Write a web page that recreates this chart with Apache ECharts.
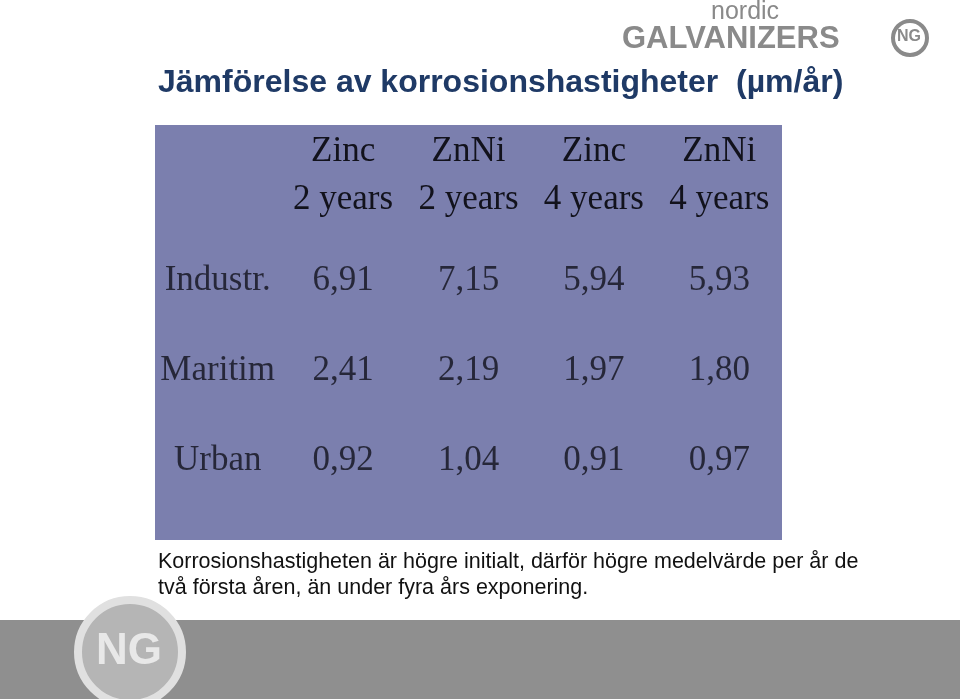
<!DOCTYPE html>
<html><head><meta charset="utf-8">
<script src="https://cdn.jsdelivr.net/npm/echarts@6/dist/echarts.min.js"></script>
<style>html,body{margin:0;padding:0;background:#fff}#c{width:960px;height:699px}</style>
</head><body><div id="c"></div>
<script>
const columns = ['', 'Zinc\n2 years', 'ZnNi\n2 years', 'Zinc\n4 years', 'ZnNi\n4 years'];
const rows = ['Industr.', 'Maritim', 'Urban'];
const zinc2 = ['6,91', '2,41', '0,92'];
const znni2 = ['7,15', '2,19', '1,04'];
const zinc4 = ['5,94', '1,97', '0,91'];
const znni4 = ['5,93', '1,80', '0,97'];
const title = 'Jämförelse av korrosionshastigheter  (µm/år)';
const note = ['Korrosionshastigheten är högre initialt, därför högre medelvärde per år de', 'två första åren, än under fyra års exponering.'];

const cols = [zinc2, znni2, zinc4, znni4];
const cellData = [];
cols.forEach((c, ci) => c.forEach((v, ri) => cellData.push({value: [ci + 1, ri], label: {formatter: v}})));
const rowData = rows.map((r, ri) => ({value: [0, ri], label: {formatter: r}}));
const txt = {color: '#12121c', fontFamily: 'Liberation Serif', fontSize: 35};
const chart = echarts.init(document.getElementById('c'));
chart.setOption({
  animation: false,
  graphic: [
    {type: 'rect', shape: {x: 155, y: 125, width: 627, height: 415}, style: {fill: '#7b7fae'}, z: -10},
    {type: 'text', left: 158, top: 67, style: {text: title, font: 'bold 32px "Liberation Sans"', fill: '#1f3a66'}},
    {type: 'text', left: 158, top: 549, style: {text: note.join('\n'), font: '21.5px "Liberation Sans"', lineHeight: 26, fill: '#111'}},
    {type: 'text', left: 711, top: 0, style: {text: 'nordic', font: '25px "Liberation Sans"', fill: '#8a8a8a'}},
    {type: 'text', left: 622, top: 24, style: {text: 'GALVANIZERS', font: 'bold 31px "Liberation Sans"', fill: '#8a8a8a'}},
    {type: 'circle', shape: {cx: 910, cy: 38, r: 17}, style: {fill: '#fff', stroke: '#8a8a8a', lineWidth: 4}},
    {type: 'text', left: 897, top: 29, style: {text: 'NG', font: 'bold 16px "Liberation Sans"', fill: '#8a8a8a'}},
    {type: 'rect', shape: {x: 0, y: 620, width: 960, height: 79}, style: {fill: '#8f8f8f'}, z: -10},
    {type: 'circle', shape: {cx: 130, cy: 652, r: 52}, style: {fill: '#b5b5b5', stroke: '#e0e0e0', lineWidth: 8}, z: -5},
    {type: 'text', left: 96, top: 630, style: {text: 'NG', font: 'bold 44px "Liberation Sans"', fill: '#e8e8e8'}, z: 1}
  ],
  grid: {left: 155, width: 627, top: 236, height: 270},
  xAxis: {type: 'category', data: columns, position: 'top',
    axisLine: {show: false}, axisTick: {show: false}, splitLine: {show: false},
    axisLabel: Object.assign({margin: 12, lineHeight: 48, interval: 0}, txt)},
  yAxis: {type: 'category', data: rows, inverse: true, show: false},
  series: [
    {type: 'scatter', data: cellData, symbolSize: 0, label: Object.assign({show: true, position: 'inside'}, txt)},
    {type: 'scatter', data: rowData, symbolSize: 0, label: Object.assign({show: true, position: 'inside'}, txt)}
  ]
});
</script></body></html>
